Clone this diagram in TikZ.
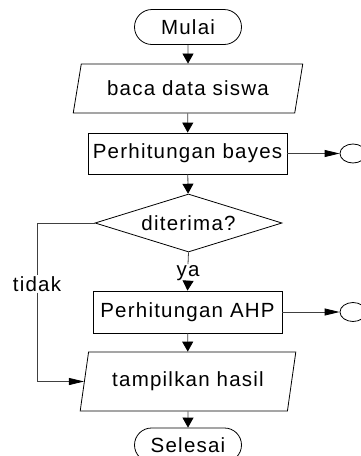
\documentclass[tikz,border=0pt]{standalone}
\usepackage{fontspec}
\setmainfont{Liberation Sans}[LetterSpace=6]
\usetikzlibrary{shapes.geometric,shapes.misc,arrows.meta}
\begin{document}
\begin{tikzpicture}[x=1pt,y=-1pt,
  every node/.style={font=\fontsize{20.5pt}{23pt}\selectfont, inner sep=0pt},
  outline/.style={draw=black, line width=0.8pt},
  term/.style={outline, rounded rectangle, minimum width=107pt, minimum height=35pt},
  proc/.style={outline, rectangle},
  io/.style={outline, trapezium, trapezium left angle=#1, trapezium right angle=180-#1, trapezium stretches=true},
  decision/.style={outline, diamond, aspect=3.22},
  conn/.style={outline, ellipse, minimum width=26pt, minimum height=19pt},
  lbl/.style={fill=white, inner sep=1pt},
  line/.style={draw=black!75, line width=0.8pt},
  varr/.style={line, -{Triangle[length=10pt,width=11pt,color=black]}},
  harr/.style={line, -{Triangle[length=15pt,width=7pt,color=black]}}
]
\useasboundingbox (0,0) rectangle (361,456);
\clip (0,0) rectangle (361,456);

\node[term] (mulai) at (188,27) {Mulai};
\node[io=68, minimum width=230pt, minimum height=49pt] (baca) at (188,88.5) {baca data siswa};
\node[proc, minimum width=199pt, minimum height=41pt] (bayes) at (187.5,153.5) {Perhitungan bayes};
\node[decision, minimum width=187pt, minimum height=58pt] (dia) at (188.5,223) {diterima?};
\node[lbl] (ya) at (188,273) {ya};
\node[proc, minimum width=189pt, minimum height=42pt] (ahp) at (187.5,312) {Perhitungan AHP};
\node[io=71.5, minimum width=216pt, minimum height=59pt] (tamp) at (188,381.5) {tampilkan hasil};
\node[term, minimum height=34pt] (selesai) at (188,445) {Selesai};
\node[lbl] (tidak) at (37,284) {tidak};
\node[conn] (c1) at (353,153.5) {};
\node[conn] (c2) at (353,312) {};

\draw[varr] (mulai) -- (baca);
\draw[varr] (baca) -- (bayes);
\draw[varr] (bayes) -- (dia);
\draw[line] (dia.south) -- (ya.north);
\draw[varr] (ya.south) -- (ahp.north);
\draw[varr] (ahp) -- (tamp);
\draw[varr] (tamp) -- (selesai);
\draw[harr] (bayes.east) -- (c1.west);
\draw[harr] (ahp.east) -- (c2.west);
\draw[line] (dia.west) -| (tidak.north);
\draw[harr] (tidak.south) |- (tamp.west);
\end{tikzpicture}
\end{document}
